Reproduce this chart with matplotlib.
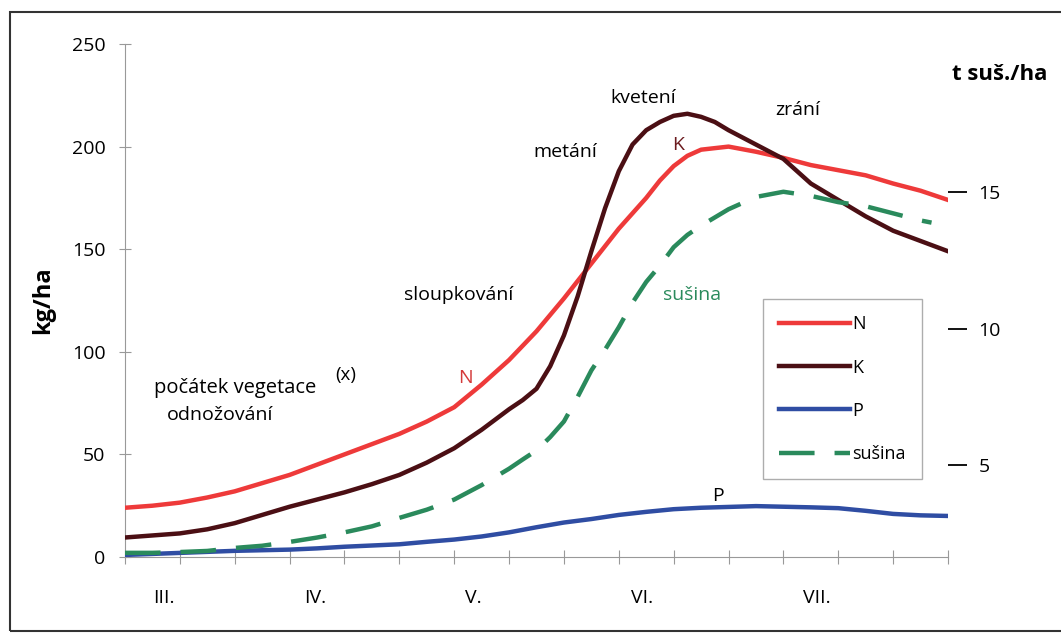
import matplotlib
matplotlib.use('Agg')
import matplotlib.pyplot as plt
from matplotlib.patches import Rectangle

plt.rcParams['font.family'] = ['Open Sans', 'DejaVu Sans']

# časová osa: dílky 0..15, měsíce III.–VII.
months = ['III.', 'IV.', 'V.', 'VI.', 'VII.']
month_pos = [0.71, 3.46, 6.34, 9.42, 12.61]

# příjem živin (kg/ha)
t_n = [0, 0.5, 1, 1.5, 2, 2.5, 3, 3.5, 4, 4.5, 5, 5.5, 6, 6.5, 7, 7.5, 8, 8.5, 9,
       9.5, 9.75, 10, 10.25, 10.5, 11, 11.5, 12, 12.5, 13, 13.5, 14, 14.5, 15]
n_vals = [24, 25, 26.5, 29, 32, 36, 40, 45, 50, 55, 60, 66, 73, 84, 96, 110, 126, 143, 160,
          175, 183.5, 190.5, 195.5, 198.5, 200, 197.5, 194.5, 191, 188.5, 186, 182, 178.5, 174]

t_k = [0, 0.5, 1, 1.5, 2, 2.5, 3, 3.5, 4, 4.5, 5, 5.5, 6, 6.5, 7, 7.25, 7.5, 7.75, 8,
       8.25, 8.5, 8.75, 9, 9.25, 9.5, 9.75, 10, 10.25, 10.5, 10.75, 11, 11.5, 12, 12.5,
       13, 13.5, 14, 14.5, 15]
k_vals = [9.5, 10.5, 11.5, 13.5, 16.5, 20.5, 24.5, 28, 31.5, 35.5, 40, 46, 53, 62, 72, 76.5,
          82, 93, 108, 127, 149, 170, 188, 201, 208, 212, 215, 216, 214.5, 212, 208, 201,
          194, 182, 174, 166, 159, 154, 149]

t_p = [0, 0.5, 1, 1.5, 2, 2.5, 3, 3.5, 4, 4.5, 5, 5.5, 6, 6.5, 7, 7.5, 8, 8.5, 9, 9.5,
       10, 10.5, 11, 11.5, 12, 12.5, 13, 13.5, 14, 14.5, 15]
p_vals = [1, 1.5, 2, 2.5, 3, 3.3, 3.6, 4.2, 5, 5.6, 6.2, 7.4, 8.5, 10, 12, 14.5,
          16.8, 18.5, 20.5, 22, 23.3, 24, 24.4, 24.8, 24.5, 24.2, 23.8, 22.5, 21, 20.3, 20]

# sušina (t suš./ha), pravá osa
t_sus = [0, 0.5, 1, 1.5, 2, 2.5, 3, 3.5, 4, 4.5, 5, 5.5, 6, 6.5, 7, 7.25, 7.5, 7.75, 8,
         8.25, 8.5, 8.75, 9, 9.25, 9.5, 9.75, 10, 10.25, 10.5, 11, 11.5, 12, 12.5, 13,
         13.5, 14, 14.5, 14.7]
sus_vals = [1.79, 1.79, 1.82, 1.86, 1.97, 2.05, 2.19, 2.35, 2.54, 2.76, 3.07, 3.37, 3.74,
            4.27, 4.87, 5.21, 5.54, 6.03, 6.60, 7.50, 8.47, 9.23, 10.05, 10.95, 11.71,
            12.31, 12.98, 13.43, 13.77, 14.37, 14.82, 15.01, 14.86, 14.63, 14.48, 14.22,
            13.96, 13.88]

W, H = 1061, 633
fig = plt.figure(figsize=(W / 100, H / 100), dpi=100)
ax = fig.add_axes([125 / W, 1 - 557 / H, 823 / W, 513 / H])
ax2 = ax.twinx()

lw = 3.2
ln_n, = ax.plot(t_n, n_vals, color='#EE3A3A', lw=lw, label='N', zorder=3)
ln_k, = ax.plot(t_k, k_vals, color='#4B0F14', lw=lw, label='K', zorder=3)
ln_p, = ax.plot(t_p, p_vals, color='#2F4DA3', lw=lw, label='P', zorder=3)
ln_s, = ax2.plot(t_sus, sus_vals, color='#2A8A5C', lw=lw, dashes=(8, 4.5), label='sušina')

ax.set_xlim(0, 15)
ax.set_ylim(0, 250)
ax2.set_ylim(1.638, 20.42)

for s in ['top', 'right']:
    ax.spines[s].set_visible(False)
for s in ax2.spines.values():
    s.set_visible(False)
ax.spines['left'].set_color('#999999')
ax.spines['bottom'].set_color('#999999')

ax.set_yticks([0, 50, 100, 150, 200, 250])
ax.set_xticks(range(16))
ax.set_xticklabels([])
ax.tick_params(axis='y', direction='inout', length=8, color='#999999', labelsize=14, pad=10)
ax.tick_params(axis='x', direction='inout', length=10, color='#999999')

ax2.set_yticks([5, 10, 15])
ax2.tick_params(axis='y', direction='out', length=14, width=1.3, color='black', labelsize=14, pad=8)

ax.set_ylabel('kg/ha', fontsize=17, fontweight='bold', labelpad=12)

for name, x in zip(months, month_pos):
    ax.text(x, -20, name, ha='center', va='center', fontsize=14)

# fáze vývoje
ax.text(0.52, 82.5, 'počátek vegetace', fontsize=14.5, va='center')
ax.text(3.83, 88.5, '(x)', fontsize=13.5, va='center')
ax.text(0.77, 69, 'odnožování', fontsize=14, va='center')
ax.text(5.08, 127.5, 'sloupkování', fontsize=14, va='center')
ax.text(7.44, 197.5, 'metání', fontsize=14, va='center')
ax.text(8.84, 223.5, 'kvetení', fontsize=14, va='center')
ax.text(11.86, 218, 'zrání', fontsize=14, va='center')
ax.text(6.2, 87, 'N', fontsize=14, color='#D43A3A', va='center', ha='center')
ax.text(10.08, 201, 'K', fontsize=14, color='#6B1A1E', va='center', ha='center')
ax.text(9.8, 127.5, 'sušina', fontsize=14, color='#2A8A5C', va='center')
ax.text(10.81, 29.5, 'P', fontsize=14, va='center', ha='center')

fig.text(1047 / W, 1 - 75 / H, 't suš./ha', fontsize=16, fontweight='bold', ha='right', va='center')

ax.legend(handles=[ln_n, ln_k, ln_p, ln_s], loc='upper left',
          bbox_to_anchor=(763 / W, 1 - 299 / H), bbox_transform=fig.transFigure,
          borderaxespad=0, fontsize=13, frameon=True, fancybox=False,
          edgecolor='#999999', handlelength=3.9, handletextpad=0.15,
          labelspacing=1.4, borderpad=0.9)

fig.patches.append(Rectangle((10 / W, 1 - 631 / H), 1.1, 619 / H, transform=fig.transFigure,
                             fill=False, edgecolor='#333333', lw=1.5))

fig.savefig('out.png', dpi=100)
